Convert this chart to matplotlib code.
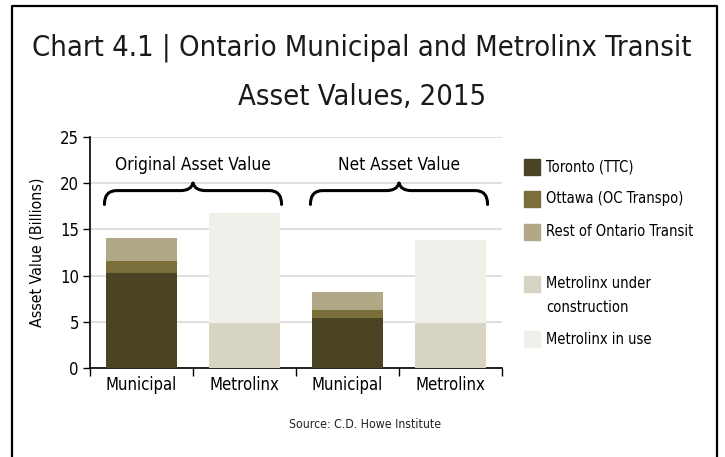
import numpy as np
import matplotlib
matplotlib.use("Agg")
import matplotlib.pyplot as plt
from matplotlib import font_manager as fm
from matplotlib.path import Path
from matplotlib.patches import PathPatch, Rectangle

# look for a narrow face, the original uses a condensed font
family, stretch = "DejaVu Sans", "normal"
for f in fm.fontManager.ttflist:
    if "Narrow" in f.name or "Condensed" in f.name:
        family, stretch = f.name, "normal"
        break
    if f.stretch in ("condensed", "semi-condensed", "extra-condensed"):
        family, stretch = f.name, f.stretch
        break
plt.rcParams['font.family'] = [family, 'DejaVu Sans']
plt.rcParams['font.stretch'] = stretch

# data (billions)
categories = ["Municipal", "Metrolinx", "Municipal", "Metrolinx"]
toronto = [10.3, 0, 5.4, 0]
ottawa = [1.3, 0, 0.85, 0]
rest_ontario = [2.5, 0, 1.95, 0]
mx_construction = [0, 4.9, 0, 4.9]
mx_in_use = [0, 11.85, 0, 8.95]
group_labels = ["Original Asset Value", "Net Asset Value"]

series_labels = ["Toronto (TTC)", "Ottawa (OC Transpo)", "Rest of Ontario Transit",
                 "Metrolinx under\nconstruction", "Metrolinx in use"]
colors = ["#4a4425", "#7a6e3a", "#b0a886", "#d7d4c4", "#f0efea"]

W, H = 725, 457
fig = plt.figure(figsize=(W / 100, H / 100), dpi=100)
renderer = fig.canvas.get_renderer()


def fit(t, width_px, max_size):
    # shrink a text so that it takes about the width it has in the original
    w = t.get_window_extent(renderer).width
    t.set_fontsize(min(max_size, t.get_fontsize() * width_px / w))
    return t.get_fontsize()


# frame around the chart (no bottom edge)
fig.add_artist(plt.Line2D([12 / W, 12 / W, 717 / W, 717 / W],
                          [0, 1 - 6 / H, 1 - 6 / H, 0], color="black", lw=1.6,
                          transform=fig.transFigure))

t1 = fig.text(362 / W, 1 - 48 / H, "Chart 4.1 | Ontario Municipal and Metrolinx Transit",
              ha="center", va="center", fontsize=28, color="#1a1a1a")
title_fs = fit(t1, 658, 30)
fig.text(362 / W, 1 - 97 / H, "Asset Values, 2015",
         ha="center", va="center", fontsize=title_fs, color="#1a1a1a")

ax = fig.add_axes([90 / W, 1 - 368 / H, (502 - 90) / W, (368 - 137) / H])
x = np.arange(len(categories))
bw = 0.69
stack = [toronto, ottawa, rest_ontario, mx_construction, mx_in_use]
bottom = np.zeros(len(categories))
for vals, c in zip(stack, colors):
    ax.bar(x, vals, bw, bottom=bottom, color=c, zorder=3)
    bottom += np.array(vals)

# text sizes from the width of a sample in the original
probe = fig.text(0, 0, "Municipal", fontsize=13)
tick_fs = fit(probe, 71, 14)
probe.set_text("Rest of Ontario Transit")
probe.set_fontsize(13)
leg_fs = fit(probe, 146, 13)
probe.set_text("Asset Value (Billions)")
probe.set_fontsize(14)
ylab_fs = fit(probe, 150, 15)
probe.set_text("Original Asset Value")
probe.set_fontsize(14)
grp_fs = fit(probe, 156, 15)
probe.set_text("Source: C.D. Howe Institute")
probe.set_fontsize(11)
src_fs = fit(probe, 152, 11)
probe.remove()

ax.set_xlim(-0.5, 3.5)
ax.set_ylim(0, 25)
ax.set_yticks(np.arange(0, 26, 5))
ax.yaxis.grid(True, color="#d9d9d9", lw=1.2, zorder=0)
ax.set_xticks(np.arange(-0.5, 4, 1))
ax.set_xticklabels([])
ax.set_xticks(x, minor=True)
ax.set_xticklabels(categories, minor=True)
ax.tick_params(axis="x", which="major", length=6, width=1, direction="out")
ax.tick_params(axis="x", which="minor", length=0, pad=6, labelsize=tick_fs)
ax.tick_params(axis="y", length=5, width=1, labelsize=tick_fs, pad=3)
for s in ["top", "right"]:
    ax.spines[s].set_visible(False)
for s in ["left", "bottom"]:
    ax.spines[s].set_linewidth(1.2)
    ax.spines[s].set_color("black")
ax.set_ylabel("Asset Value (Billions)", fontsize=ylab_fs)
ax.yaxis.set_label_coords(-(90 - 45) / (502 - 90), 0.5)


def brace(ax, x0, x1, y_end, y_flat, y_tip):
    mid = (x0 + x1) / 2
    d = 0.12
    verts = [(x0, y_end), (x0, y_flat), (x0 + d, y_flat),
             (mid - d, y_flat),
             (mid - 0.02, y_flat), (mid, y_tip),
             (mid, y_tip), (mid + 0.02, y_flat), (mid + d, y_flat),
             (x1 - d, y_flat),
             (x1, y_flat), (x1, y_end)]
    codes = [Path.MOVETO, Path.CURVE3, Path.CURVE3,
             Path.LINETO,
             Path.CURVE3, Path.CURVE3,
             Path.MOVETO, Path.CURVE3, Path.CURVE3,
             Path.LINETO,
             Path.CURVE3, Path.CURVE3]
    ax.add_patch(PathPatch(Path(verts, codes), fill=False, lw=2.2,
                           color="black", zorder=4, capstyle="round"))


for i, lab in enumerate(group_labels):
    c = 2 * i + 0.5
    brace(ax, c - 0.86, c + 0.86, 17.7, 19.2, 20.0)
    ax.text(c, 22.0, lab, ha="center", va="center", fontsize=grp_fs)

# legend drawn by hand to keep the gap and wrapped label
leg_y = [167, 199, 232, 284, 339]
for lab, c, yy in zip(series_labels, colors, leg_y):
    fig.add_artist(Rectangle((524 / W, 1 - (yy + 8) / H), 16 / W, 16 / H,
                             color=c, transform=fig.transFigure))
    fig.text(546 / W, 1 - yy / H, lab.split("\n")[0], ha="left", va="center",
             fontsize=leg_fs)
    if "\n" in lab:
        fig.text(546 / W, 1 - (yy + 23) / H, lab.split("\n")[1], ha="left",
                 va="center", fontsize=leg_fs)

fig.text(365 / W, 1 - 425 / H, "Source: C.D. Howe Institute", ha="center",
         va="center", fontsize=src_fs, color="#222222")

fig.savefig("out.png", dpi=100)
